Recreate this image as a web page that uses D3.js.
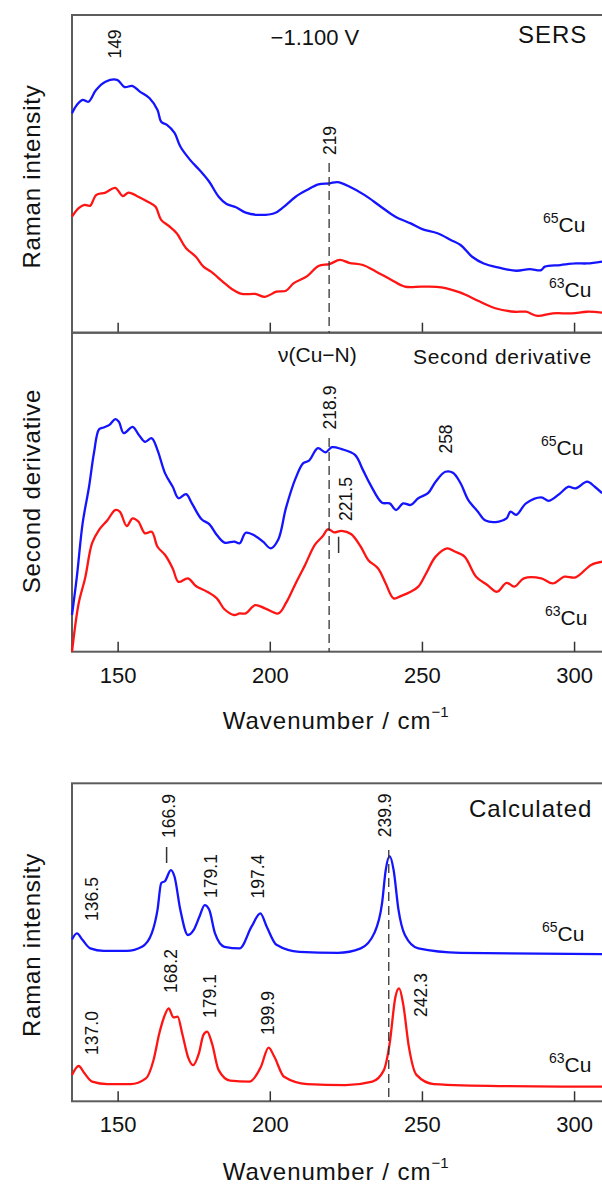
<!DOCTYPE html>
<html><head><meta charset="utf-8">
<script src="https://cdn.jsdelivr.net/npm/d3@7"></script>
<style>body{margin:0;background:#fff}svg{display:block}</style>
</head><body>
<svg id="c" width="602" height="1189"></svg>
<script>
// ---------------- DATA ----------------
const wnTicks = [150, 200, 250, 300];
const wnDomain = [135, 310];

// SERS (-1.100 V), [wavenumber, intensity a.u.]
const sers65 = [[135,69.1],[136.6,71.7],[138.5,73.3],[140.4,72.7],[142.9,76.4],[146,79.0],[149.8,79.6],[152.3,77.3],[154.8,77.7],[157.3,75.9],[160.5,73.8],[163.1,70.1],[164.3,66.4],[166.2,65.4],[168.7,62.9],[170.6,58.6],[173.8,54.4],[176.9,51.2],[180.1,47.5],[183.2,42.8],[185.8,40.5],[188.9,39.5],[192.1,37.8],[195.9,37.1],[201.5,37.6],[204.7,39.7],[208.5,42.8],[212.2,44.9],[216,46.7],[219.6,47.0],[222.3,47.4],[226.1,46.0],[231.2,43.3],[236.2,39.9],[241.3,36.5],[246.3,34.4],[250.1,32.6],[255.1,31.3],[259.5,29.2],[262.7,27.6],[266.5,23.9],[270.3,21.8],[275.3,20.5],[281,19.5],[285.4,20.0],[289.2,19.7],[290.4,20.8],[295.5,21.3],[300.5,21.8],[304.3,21.8],[309.2,22.4]];
const sers63 = [[135,36.5],[137.2,39.2],[139.1,40.2],[141,40.0],[142.9,43.3],[146,44.1],[149.2,45.6],[151.7,43.0],[153.6,44.1],[156.8,42.8],[159.9,41.2],[162.4,39.7],[164.3,35.5],[166.8,33.6],[169.4,31.3],[172.5,26.6],[175.7,23.9],[178.2,20.8],[180.7,19.2],[184.5,16.1],[187.6,13.7],[190.8,12.2],[195.2,12.2],[198.4,11.3],[202.2,12.9],[205.3,13.2],[207.9,15.6],[212.3,17.8],[216,21.0],[219.6,21.6],[223,22.9],[226.1,22.0],[230.6,21.3],[235,19.2],[240,16.6],[244.4,14.5],[250.1,14.5],[256.4,14.3],[262.7,12.6],[269,9.8],[274.1,7.7],[280.4,6.6],[284.2,6.6],[287.9,5.3],[293,6.1],[299.3,6.1],[304.3,6.6],[309.2,6.3]];

// Second derivative
const deriv65 = [[135,11.5],[136.6,23.5],[138.5,40.3],[140.6,51.7],[142.2,62.2],[143.9,69.7],[145.4,70.3],[147.3,71.1],[149.2,72.9],[150.4,72.1],[152,68.5],[154.9,70.5],[156.8,68.2],[159,65.8],[161.2,66.9],[163.1,63.2],[165.6,55.9],[168.1,51.7],[170,48.1],[172.5,49.4],[174.4,46.5],[177.6,41.5],[180.1,40.0],[182.6,36.6],[185.1,34.2],[188.3,34.5],[190.1,34.0],[192.1,37.3],[195.2,36.3],[197.8,34.5],[200.3,32.4],[202.8,35.2],[205.3,45.0],[208.5,54.4],[211,59.1],[212.9,59.9],[215.8,63.8],[218.3,62.5],[220.4,64.1],[223.6,63.5],[228,61.7],[230.6,57.0],[233.1,52.3],[236.9,46.7],[239.4,46.5],[241.5,44.4],[243.8,46.5],[246.3,46.0],[248.8,48.1],[252,49.7],[254.5,53.3],[257.7,56.4],[260.2,56.1],[262.7,52.8],[265.2,47.6],[268.4,43.9],[270.9,41.1],[275.3,40.8],[277.8,41.8],[279.1,43.9],[281,42.9],[284.2,46.5],[289.2,48.4],[291.7,47.3],[295.5,49.7],[298,51.7],[300.5,51.2],[304.3,53.3],[306.8,51.7],[309.2,49.7]];
const deriv63 = [[135,0],[137.2,15.2],[139.3,23.0],[141.6,34.0],[143.9,38.2],[146.7,41.3],[149.2,44.4],[150.7,43.9],[153,39.4],[154.9,41.8],[156.8,40.8],[159,37.1],[161.2,37.6],[163.1,32.9],[165.6,30.3],[168.1,26.1],[170,21.9],[173.1,23.0],[175.7,20.6],[179.4,18.8],[182.6,16.7],[185.1,13.3],[188.3,11.5],[190.1,12.0],[192.1,12.0],[195.2,14.6],[198.4,13.6],[202.8,12.0],[205.3,15.2],[208.5,21.4],[211.6,27.2],[214.8,33.5],[217.3,36.1],[219.2,38.4],[221.1,37.4],[223.6,37.9],[226.7,36.9],[229.9,32.9],[232.4,28.7],[235.6,26.1],[238.1,21.4],[240.7,16.7],[243.2,17.5],[246.3,18.8],[248.8,20.4],[251.4,24.6],[254.5,29.8],[258.3,32.4],[260.8,31.4],[264,29.8],[267.8,23.5],[271.5,20.9],[274.7,18.8],[277.8,21.6],[280.4,20.4],[283.5,23.0],[289.2,23.0],[293,21.4],[296.8,23.5],[300.5,23.3],[305.6,27.2],[309.2,28.2]];

// Calculated
const calc65 = [[135,50.9],[136.6,52.8],[138.5,50.7],[141,48.1],[145.4,47.3],[153,47.3],[158,48.6],[161.2,52.8],[163.1,60.2],[164.3,68.6],[165.6,69.3],[167.5,72.7],[168.7,70.6],[170.6,60.2],[173.1,52.3],[175,53.9],[176.9,58.1],[178.6,61.7],[180.1,60.2],[182,52.8],[185.1,48.6],[190.1,48.1],[194,54.9],[196.9,59.1],[199,54.9],[202.2,49.2],[209.7,47.0],[222.4,46.7],[229.9,48.1],[234.3,52.8],[236.9,62.3],[238.1,72.7],[239.4,77.1],[240.7,72.7],[242.3,60.2],[244.4,52.3],[248.8,48.1],[262.7,46.7],[309.2,46.3]];
const calc63 = [[135,8.3],[137.2,11.1],[139.1,8.8],[141.6,6.2],[146.7,5.4],[154.2,5.4],[159.3,7.2],[161.8,13.0],[163.7,21.4],[165.3,26.6],[166.8,29.2],[168.3,26.4],[169.7,26.6],[171.2,21.4],[173.1,14.0],[174.8,11.4],[176.7,15.1],[178.2,20.9],[179.4,21.9],[181,18.2],[183.2,9.8],[187,6.5],[193.3,6.2],[197.1,10.9],[199.6,16.9],[201.5,14.0],[204.7,7.7],[212.3,5.4],[224.9,5.1],[233.7,6.2],[237.5,9.8],[239.4,18.2],[241.3,32.9],[242.5,35.5],[243.8,30.8],[245.7,17.2],[248.2,8.3],[253.9,5.4],[275.3,4.8],[309.2,4.6]];

// Peak labels
const sersPeaks = ["149", "219"];
const derivPeaks = ["218.9", "221.5", "258"];
const calcPeaks65 = ["136.5", "166.9", "179.1", "197.4", "239.9"];
const calcPeaks63 = ["137.0", "168.2", "179.1", "199.9", "242.3"];

// ---------------- DRAW ----------------
const FONT = "'Liberation Sans', Arial, Helvetica, sans-serif";
const svg = d3.select("#c").style("font-family", FONT);
const x = d3.scaleLinear().domain(wnDomain).range([72, 604.5]);
const BLUE = "#1414ff", RED = "#ff1414", TXT = "#111";

const panels = [
  {top: 15, bottom: 332.7, s65: sers65, s63: sers63, labels: false, curve: d3.curveCatmullRom.alpha(0.5)},
  {top: 332.7, bottom: 651.7, s65: deriv65, s63: deriv63, labels: true, curve: d3.curveCatmullRom.alpha(0.5)},
  {top: 783.3, bottom: 1101.3, s65: calc65, s63: calc63, labels: true, curve: d3.curveMonotoneX}
];

panels.forEach((p, i) => {
  const y = d3.scaleLinear().domain([0, 100]).range([p.bottom, p.top]);
  p.y = y;
  const g = svg.append("g");
  // frame
  g.append("rect").attr("x", 72).attr("y", p.top).attr("width", 560).attr("height", p.bottom - p.top)
    .attr("fill", "none").attr("stroke", "#5c5c5c").attr("stroke-width", 2);
  // axis ticks
  const ax = d3.axisBottom(x).tickValues(wnTicks).tickSizeInner(-10).tickSizeOuter(0).tickFormat(d3.format("d"));
  const ag = g.append("g").attr("transform", `translate(0,${p.bottom})`).call(ax);
  ag.select(".domain").remove();
  ag.selectAll(".tick line").attr("stroke", "#333").attr("stroke-width", 1.5);
  if (p.labels) {
    ag.selectAll(".tick text").attr("y", 31).attr("dy", null).attr("fill", TXT)
      .style("font-size", "22px").style("font-family", FONT);
  } else {
    ag.selectAll(".tick text").remove();
  }
  const line = d3.line().x(d => x(d[0])).y(d => y(d[1])).curve(p.curve);
  g.append("path").datum(p.s63).attr("d", line).attr("fill", "none").attr("stroke", RED).attr("stroke-width", 2.3).attr("stroke-linejoin", "round");
  g.append("path").datum(p.s65).attr("d", line).attr("fill", "none").attr("stroke", BLUE).attr("stroke-width", 2.3).attr("stroke-linejoin", "round");
});

function txt(s, xx, yy, size, opts = {}) {
  return svg.append("text").attr("x", xx).attr("y", yy).attr("fill", TXT)
    .style("font-size", size + "px").style("letter-spacing", (opts.ls || 0) + "px")
    .attr("text-anchor", opts.anchor || "start").text(s);
}
function vtxt(s, cx, cy, size, opts = {}) {
  return svg.append("text").attr("transform", `translate(${cx},${cy}) rotate(-90)`)
    .attr("fill", TXT).attr("text-anchor", "middle").attr("dy", opts.dy || "0.36em")
    .style("font-size", size + "px").style("letter-spacing", (opts.ls || 0) + "px").text(s);
}
function iso(mass, xx, base) {
  const t = svg.append("text").attr("x", xx).attr("y", base).attr("fill", TXT);
  t.append("tspan").style("font-size", "14px").attr("dy", -9).text(mass);
  t.append("tspan").style("font-size", "21px").attr("dy", 9).text("Cu");
}
function vbar(xx, y1, y2) {
  svg.append("line").attr("x1", xx).attr("x2", xx).attr("y1", y1).attr("y2", y2).attr("stroke", "#333").attr("stroke-width", 1.5);
}
function dashed(xx, y1, y2) {
  svg.append("line").attr("x1", xx).attr("x2", xx).attr("y1", y1).attr("y2", y2)
    .attr("stroke", "#333").attr("stroke-width", 1.3).attr("stroke-dasharray", "9,5");
}

// Y axis titles
vtxt("Raman intensity", 31.5, 176.5, 24, {dy: 0, ls: 0.8});
vtxt("Second derivative", 31.5, 491, 24, {dy: 0, ls: 0.8});
vtxt("Raman intensity", 31.5, 945, 24, {dy: 0, ls: 0.8});

// X axis titles
[729, 1180].forEach(b => {
  const t = svg.append("text").attr("x", 222.7).attr("y", b).attr("fill", TXT).style("font-size", "24px").style("letter-spacing", "1px");
  t.append("tspan").text("Wavenumber / cm");
  t.append("tspan").style("font-size", "15px").attr("dy", -12).style("letter-spacing", "0px").text("\u22121");
});

// Top panel annotations
txt("\u22121.100 V", 270.6, 45, 22);
txt("SERS", 518, 43.3, 24, {ls: 1});
vtxt(sersPeaks[0], 114.4, 44, 17.5);
vtxt(sersPeaks[1], 329.4, 140.5, 17.5);
dashed(x(219.5), 163, 332.7);
iso("65", 543, 231.7);
iso("63", 549, 296.7);

// Middle panel annotations
txt("\u03bd(Cu\u2212N)", 278, 361.7, 21);
txt("Second derivative", 413, 364, 21, {ls: 0.7});
vtxt(derivPeaks[0], 329.4, 407.5, 17.5);
vtxt(derivPeaks[1], 345.5, 499, 17.5);
vbar(338.6, 536.7, 553);
vtxt(derivPeaks[2], 445.3, 439, 17.5);
dashed(x(219.5), 438, 651.7);
iso("65", 541, 455);
iso("63", 545, 625);

// Bottom panel annotations
txt("Calculated", 469, 816.7, 24, {ls: 1});
vtxt(calcPeaks65[0], 91.4, 899, 17.5);
vtxt(calcPeaks65[1], 169, 816, 17.5);
vbar(166.6, 847, 863);
vtxt(calcPeaks65[2], 210.4, 876, 17.5);
vtxt(calcPeaks65[3], 257.2, 876.5, 17.5);
vtxt(calcPeaks65[4], 385, 815.3, 17.5);
dashed(x(239.1), 850, 1101.3);
vtxt(calcPeaks63[0], 91.4, 1033, 17.5);
vtxt(calcPeaks63[1], 170.8, 971, 17.5);
vtxt(calcPeaks63[2], 209.2, 996, 17.5);
vtxt(calcPeaks63[3], 268, 1013, 17.5);
vtxt(calcPeaks63[4], 420.3, 995, 17.5);
iso("65", 542, 940.7);
iso("63", 549, 1071.7);
</script>
</body></html>
